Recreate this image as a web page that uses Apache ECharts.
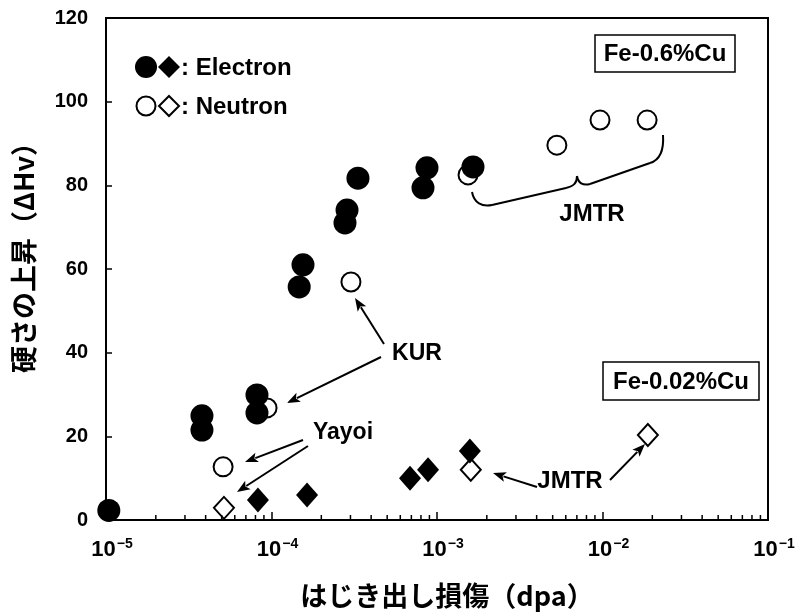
<!DOCTYPE html>
<html>
<head>
<meta charset="utf-8">
<script src="https://cdn.jsdelivr.net/npm/echarts@6/dist/echarts.min.js"></script>
<style>
html,body{margin:0;padding:0;background:#fff;}
#chart{width:796px;height:616px;}
</style>
</head>
<body>
<div id="chart"></div>
<script>
// ---- Data (dpa, ΔHv) ----
// Fe-0.6%Cu, electron irradiation (filled circles)
const eCircleX = [1.04e-5, 3.8e-5, 3.8e-5, 8.17e-5, 8.17e-5, 1.47e-4, 1.55e-4, 2.78e-4, 2.86e-4, 3.33e-4, 8.23e-4, 8.7e-4, 1.65e-3];
const eCircleY = [2.3, 21.5, 24.9, 25.6, 29.9, 55.7, 61.0, 71.0, 74.1, 81.7, 79.4, 84.2, 84.4];
// Fe-0.6%Cu, neutron irradiation (open circles)
const nCircleX = [5.1e-5, 9.4e-5, 3.02e-4, 1.54e-3, 5.3e-3, 9.66e-3, 1.86e-2];
const nCircleY = [12.7, 26.8, 56.9, 82.5, 89.6, 95.6, 95.6];
// Fe-0.02%Cu, electron irradiation (filled diamonds)
const eDiamondX = [8.28e-5, 1.64e-4, 6.87e-4, 8.83e-4, 1.58e-3];
const eDiamondY = [4.8, 6.0, 10.0, 12.0, 16.5];
// Fe-0.02%Cu, neutron irradiation (open diamonds)
const nDiamondX = [5.16e-5, 1.6e-3, 1.88e-2];
const nDiamondY = [2.9, 12.0, 20.3];

const xMin = 1e-5, xMax = 1e-1;
const yMin = 0, yMax = 120, yStep = 20;
const xAxisTitle = 'はじき出し損傷（dpa）';
const yAxisTitle = '硬さの上昇（ΔHv）';

function zip(xs, ys) { return xs.map((x, i) => [x, ys[i]]); }

const FONT = '"Liberation Sans", Arial, sans-serif';
const CJK = '"Noto Sans CJK JP", "Noto Sans CJK SC", sans-serif';

const chart = echarts.init(document.getElementById('chart'), null, {renderer: 'canvas'});

const openStyle = {color: '#fff', borderColor: '#000', borderWidth: 2, opacity: 1};
const fillStyle = {color: '#000', borderColor: '#000', borderWidth: 0, opacity: 1};

chart.setOption({
  backgroundColor: '#fff',
  animation: false,
  grid: {left: 106, right: 28, top: 18, bottom: 96, containLabel: false, outerBoundsMode: 'none', show: true, borderColor: '#000', borderWidth: 2, backgroundColor: 'transparent'},
  xAxis: {
    type: 'log', logBase: 10, min: xMin, max: xMax,
    axisLine: {show: true, onZero: false, lineStyle: {color: '#000', width: 2}},
    axisTick: {show: true, inside: true, length: 8, lineStyle: {color: '#000', width: 1.5}},
    splitLine: {show: false},
    axisLabel: {
      margin: 17,
      formatter: function (v) {
        const e = Math.round(Math.log10(v));
        return '{p|}{b|10}{s|−' + Math.abs(e) + '}';
      },
      rich: {
        p: {width: 12},
        b: {fontFamily: FONT, fontWeight: 'bold', fontSize: 22, color: '#000'},
        s: {fontFamily: FONT, fontWeight: 'bold', fontSize: 14, color: '#000', padding: [0, 0, 12, 1]}
      }
    },
    name: xAxisTitle, nameLocation: 'middle', nameGap: 62,
    nameTextStyle: {fontFamily: CJK, fontWeight: 'bold', fontSize: 27, color: '#000', padding: [0, 0, 0, 20]}
  },
  yAxis: {
    type: 'value', min: yMin, max: yMax, interval: yStep,
    axisLine: {show: true, lineStyle: {color: '#000', width: 2}},
    axisTick: {show: true, inside: true, length: 6, lineStyle: {color: '#000', width: 1.5}},
    splitLine: {show: false},
    axisLabel: {margin: 18, fontFamily: FONT, fontWeight: 'bold', fontSize: 20, color: '#000'},
    name: yAxisTitle, nameLocation: 'middle', nameGap: 69, nameRotate: 90,
    nameTextStyle: {fontFamily: CJK, fontWeight: 'bold', fontSize: 27, color: '#000', padding: [0, 0, 0, 36]}
  },
  series: [
    {type: 'scatter', name: 'Neutron 0.6Cu', data: zip(nCircleX, nCircleY), symbol: 'circle', symbolSize: 19, itemStyle: openStyle, z: 2},
    {type: 'scatter', name: 'Neutron 0.02Cu', data: zip(nDiamondX, nDiamondY), symbol: 'diamond', symbolSize: [20, 22], itemStyle: openStyle, z: 2},
    {type: 'scatter', name: 'Electron 0.6Cu', data: zip(eCircleX, eCircleY), symbol: 'circle', symbolSize: 23, itemStyle: fillStyle, z: 3},
    {type: 'scatter', name: 'Electron 0.02Cu', data: zip(eDiamondX, eDiamondY), symbol: 'diamond', symbolSize: [22, 25], itemStyle: fillStyle, z: 3}
  ]
});

// ---- Decorations: minor log ticks, legend, labels, arrows ----
const g = [];
const bottomY = chart.convertToPixel({gridIndex: 0}, [xMin, yMin])[1];
for (let d = -5; d < -1; d++) {
  for (let k = 2; k <= 9; k++) {
    const px = chart.convertToPixel({gridIndex: 0}, [k * Math.pow(10, d), yMin])[0];
    g.push({type: 'line', shape: {x1: px, y1: bottomY, x2: px, y2: bottomY - 5}, style: {stroke: '#000', lineWidth: 1.5}, z: 10});
  }
}

function txt(x, y, s, size, align) {
  g.push({type: 'text', x: x, y: y, style: {text: s, fill: '#000', font: 'bold ' + size + 'px ' + FONT, align: align || 'center', verticalAlign: 'middle'}, z: 20});
}
function arrow(x1, y1, x2, y2) {
  const L = 13, W = 5;
  const dx = x2 - x1, dy = y2 - y1, len = Math.hypot(dx, dy);
  const ux = dx / len, uy = dy / len;
  const bx = x2 - ux * L, by = y2 - uy * L;
  g.push({type: 'line', shape: {x1: x1, y1: y1, x2: bx + ux * 2, y2: by + uy * 2}, style: {stroke: '#000', lineWidth: 2}, z: 20});
  g.push({type: 'polygon', shape: {points: [[x2, y2], [bx - uy * W, by + ux * W], [bx + ux * 3, by + uy * 3], [bx + uy * W, by - ux * W]]}, style: {fill: '#000'}, z: 20});
}
function curve(x1, y1, c1x, c1y, c2x, c2y, x2, y2) {
  g.push({type: 'bezierCurve', shape: {x1: x1, y1: y1, cpx1: c1x, cpy1: c1y, cpx2: c2x, cpy2: c2y, x2: x2, y2: y2}, style: {fill: null, stroke: '#000', lineWidth: 2}, z: 20});
}
function seg(x1, y1, x2, y2) {
  g.push({type: 'line', shape: {x1: x1, y1: y1, x2: x2, y2: y2}, style: {stroke: '#000', lineWidth: 2}, z: 20});
}

// legend
g.push({type: 'circle', shape: {cx: 146, cy: 67, r: 11}, style: {fill: '#000'}, z: 20});
g.push({type: 'polygon', shape: {points: [[169, 56], [180, 67], [169, 78], [158, 67]]}, style: {fill: '#000'}, z: 20});
txt(181, 68, ': Electron', 24, 'left');
g.push({type: 'circle', shape: {cx: 146, cy: 106, r: 9.5}, style: {fill: '#fff', stroke: '#000', lineWidth: 2}, z: 20});
g.push({type: 'polygon', shape: {points: [[169, 96], [179, 106], [169, 116], [159, 106]]}, style: {fill: '#fff', stroke: '#000', lineWidth: 2}, z: 20});
txt(181, 107, ': Neutron', 24, 'left');

// material boxes
g.push({type: 'rect', shape: {x: 595, y: 35, width: 140, height: 37}, style: {fill: '#fff', stroke: '#000', lineWidth: 1.5}, z: 19});
txt(665, 54, 'Fe-0.6%Cu', 24);
g.push({type: 'rect', shape: {x: 603, y: 362, width: 156, height: 38}, style: {fill: '#fff', stroke: '#000', lineWidth: 1.5}, z: 19});
txt(681, 382, 'Fe-0.02%Cu', 24);

// annotations
txt(417, 354, 'KUR', 23);
arrow(384, 344, 355, 298);
arrow(381, 357, 287, 403);
txt(343, 433, 'Yayoi', 23);
arrow(303, 440, 245, 462);
arrow(308, 446, 237, 492);
txt(570, 481, 'JMTR', 24);
arrow(537, 487, 493, 473);
arrow(610, 480, 645, 444);
txt(592, 214, 'JMTR', 24);
// curly brace under the JMTR open circles
curve(472, 192, 474, 203, 482, 207, 492, 205);
seg(492, 205, 566, 188);
curve(566, 188, 574, 186, 577, 183, 577, 176);
curve(577, 176, 578, 183, 583, 186, 590, 184);
seg(590, 184, 650, 163);
curve(650, 163, 660, 160, 664, 150, 663, 135);

chart.setOption({graphic: g});
</script>
</body>
</html>
